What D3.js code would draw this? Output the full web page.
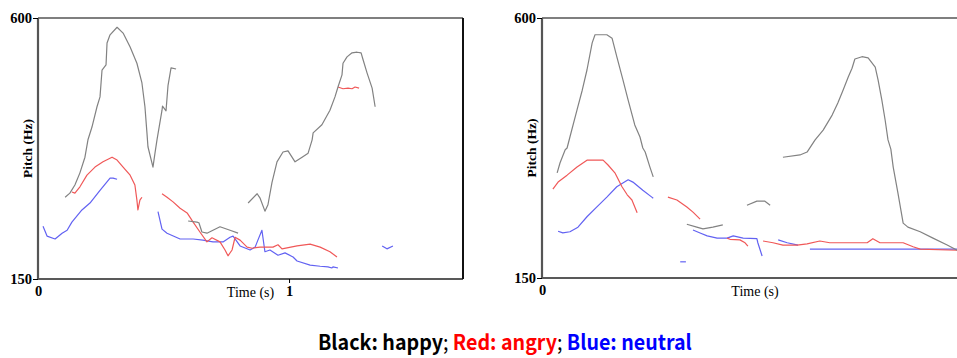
<!DOCTYPE html>
<html>
<head>
<meta charset="utf-8">
<script src="https://cdn.jsdelivr.net/npm/d3@7"></script>
<style>
  body { margin: 0; background: #fff; }
  svg { display: block; }
</style>
</head>
<body>
<div id="chart"></div>
<script>
// pitch tracks, [time (s), pitch (Hz)], one inner array per voiced stretch
const leftHappy = [
  [[0.108,291],[0.127,298],[0.147,312],[0.167,333],[0.187,360],[0.199,390],[0.215,412],[0.235,447],[0.247,464],[0.255,510],[0.271,519],[0.275,557],[0.287,571],[0.315,584],[0.339,574],[0.367,550],[0.394,522],[0.414,488],[0.426,447],[0.434,402],[0.438,378],[0.458,343],[0.466,367],[0.474,390],[0.494,441],[0.496,448],[0.510,440],[0.518,484],[0.530,514],[0.550,512]],
  [[0.598,250],[0.633,248],[0.641,247],[0.653,231],[0.673,229],[0.697,234],[0.725,240],[0.765,234],[0.797,229]],
  [[0.837,281],[0.873,297],[0.884,290],[0.904,267],[0.916,278],[0.932,316],[0.952,352],[0.976,369],[0.996,371],[1.024,352],[1.052,360],[1.076,367],[1.092,390],[1.096,402],[1.131,416],[1.163,441],[1.183,464],[1.195,481],[1.211,502],[1.215,522],[1.231,533],[1.251,540],[1.271,541],[1.287,540],[1.295,528],[1.311,505],[1.331,479],[1.343,447]]
];
const leftAngry = [
  [[0.135,300],[0.147,298],[0.167,309],[0.195,329],[0.227,343],[0.259,352],[0.295,360],[0.315,355],[0.339,343],[0.367,329],[0.386,312],[0.394,286],[0.398,269],[0.406,286],[0.414,291]],
  [[0.494,297],[0.514,291],[0.538,283],[0.566,272],[0.594,264],[0.618,248],[0.645,231],[0.673,214],[0.693,221],[0.725,214],[0.745,200],[0.757,190],[0.773,200],[0.785,222],[0.805,217],[0.833,205],[0.853,203],[0.884,205],[0.936,205],[0.956,209],[0.972,202],[1.032,207],[1.084,210],[1.124,205],[1.163,197],[1.191,188]],
  [[1.195,481],[1.215,478],[1.235,479],[1.251,478],[1.263,481],[1.279,479]]
];
const leftNeutral = [
  [[0.020,241],[0.036,224],[0.068,219],[0.096,229],[0.116,234],[0.135,248],[0.175,269],[0.207,281],[0.247,303],[0.287,324],[0.299,324],[0.315,322]],
  [[0.478,266],[0.494,236],[0.514,229],[0.566,219],[0.618,219],[0.657,217],[0.697,214],[0.737,214],[0.765,222],[0.777,224],[0.805,207],[0.845,200],[0.865,205],[0.876,217],[0.892,234],[0.904,197],[0.924,200],[0.956,191],[0.984,195],[1.016,188],[1.032,181],[1.084,174],[1.124,172],[1.155,171],[1.171,169],[1.175,171],[1.195,169]],
  [[1.371,207],[1.390,202],[1.414,207]]
];

const rightHappy = [
  [[0.032,332],[0.038,349],[0.049,372],[0.053,375],[0.059,394],[0.074,441],[0.085,475],[0.095,510],[0.106,557],[0.112,571],[0.137,571],[0.148,565],[0.158,533],[0.171,493],[0.182,458],[0.196,415],[0.207,394],[0.213,375],[0.218,368],[0.228,342],[0.235,325]],
  [[0.306,243],[0.327,238],[0.340,235],[0.361,238],[0.382,242]],
  [[0.433,276],[0.454,283],[0.471,283],[0.482,276]],
  [[0.509,359],[0.545,363],[0.560,368],[0.577,389],[0.594,406],[0.613,432],[0.625,453],[0.636,475],[0.647,498],[0.655,513],[0.661,529],[0.676,533],[0.689,531],[0.704,515],[0.710,493],[0.718,458],[0.725,423],[0.731,389],[0.737,373],[0.742,342],[0.752,297],[0.763,245],[0.773,238],[0.799,230],[0.826,219],[0.856,207],[0.877,198]]
];
const rightAngry = [
  [[0.023,304],[0.034,316],[0.053,328],[0.074,342],[0.095,354],[0.129,354],[0.139,346],[0.154,332],[0.169,308],[0.180,294],[0.190,285],[0.201,263]],
  [[0.266,290],[0.285,285],[0.306,273],[0.319,264],[0.334,252]],
  [[0.391,219],[0.397,217],[0.418,216],[0.429,211],[0.435,205]],
  [[0.467,214],[0.488,211],[0.509,207],[0.539,207],[0.560,209],[0.587,214],[0.608,211],[0.687,211],[0.699,218],[0.714,211],[0.763,211],[0.784,204],[0.799,200],[0.877,198]]
];
const rightNeutral = [
  [[0.034,231],[0.044,228],[0.059,230],[0.076,238],[0.095,256],[0.116,273],[0.137,290],[0.158,308],[0.182,320],[0.192,316],[0.213,302],[0.232,290],[0.235,288]],
  [[0.292,178],[0.304,178]],
  [[0.319,233],[0.334,228],[0.349,223],[0.370,219],[0.391,219],[0.404,223],[0.425,219],[0.454,218],[0.456,211],[0.465,188]],
  [[0.499,216],[0.518,211],[0.541,207]],
  [[0.566,200],[0.877,200]]
];

const pitchRange = [150, 600];
const pitchTicks = [150, 600];
const timeTicks = [0, 1];
const legendParts = [
  {text: 'Black: happy', color: '#000', weight: 'bold'},
  {text: '; ', color: '#000', weight: 'normal'},
  {text: 'Red: angry', color: '#ff0000', weight: 'bold'},
  {text: '; ', color: '#000', weight: 'normal'},
  {text: 'Blue: neutral', color: '#0000ff', weight: 'bold'}
];

const colors = {happy: '#828282', angry: '#f05858', neutral: '#6262f2'};

const panels = [
  {left: 38, top: 18, bottom: 279, width: 425, duration: 1.693,
   series: {happy: leftHappy, angry: leftAngry, neutral: leftNeutral}},
  {left: 542, top: 18, bottom: 278, width: 426, duration: 0.9,
   series: {happy: rightHappy, angry: rightAngry, neutral: rightNeutral}}
];

const svg = d3.select('#chart').append('svg')
    .attr('width', 957)
    .attr('height', 358);

panels.forEach((p) => {
  const x = d3.scaleLinear().domain([0, p.duration]).range([p.left, p.left + p.width]);
  const y = d3.scaleLinear().domain(pitchRange).range([p.bottom, p.top]);
  const g = svg.append('g');

  const line = d3.line()
      .x((d) => x(d[0]))
      .y((d) => y(d[1]));

  ['neutral', 'angry', 'happy'].forEach((k) => {
    g.selectAll(null)
        .data(p.series[k])
      .enter().append('path')
        .attr('d', line)
        .attr('fill', 'none')
        .attr('stroke', colors[k])
        .attr('stroke-width', 1.2)
        .attr('stroke-linejoin', 'round');
  });

  // frame
  g.append('line')
      .attr('x1', p.left).attr('x2', p.left + p.width)
      .attr('y1', p.top).attr('y2', p.top)
      .attr('stroke', '#000').attr('stroke-width', 1.2);
  g.append('line')
      .attr('x1', p.left).attr('x2', p.left + p.width)
      .attr('y1', p.bottom).attr('y2', p.bottom)
      .attr('stroke', '#222').attr('stroke-width', 1.6);
  g.append('line')
      .attr('x1', p.left + p.width).attr('x2', p.left + p.width)
      .attr('y1', p.top).attr('y2', p.bottom)
      .attr('stroke', '#111').attr('stroke-width', 2);
  g.append('line')
      .attr('x1', p.left).attr('x2', p.left)
      .attr('y1', p.top).attr('y2', p.bottom)
      .attr('stroke', '#555').attr('stroke-width', 2.2);

  const yAxis = g.append('g')
      .attr('transform', `translate(${p.left}, 0)`)
      .call(d3.axisLeft(y).tickValues(pitchTicks).tickSize(5).tickPadding(1));
  const xAxis = g.append('g')
      .attr('transform', `translate(0, ${p.bottom})`)
      .call(d3.axisBottom(x).tickValues(timeTicks.filter((t) => t <= p.duration))
        .tickSize(4).tickPadding(3).tickFormat(d3.format('d')));
  [yAxis, xAxis].forEach((a) => {
    a.select('.domain').remove();
    a.selectAll('line').attr('stroke', '#000');
    a.selectAll('text')
        .style('font-family', '"Liberation Serif", serif')
        .style('font-size', '14.5px')
        .style('font-weight', 'bold')
        .attr('fill', '#000');
  });
  xAxis.selectAll('.tick').filter((d) => d === 0).select('line').remove();

  g.append('text')
      .attr('transform', `translate(${p.left - 6}, ${(p.top + p.bottom) / 2}) rotate(-90)`)
      .attr('text-anchor', 'middle')
      .style('font-family', '"Liberation Serif", serif')
      .style('font-size', '13.5px')
      .style('font-weight', 'bold')
      .text('Pitch (Hz)');

  g.append('text')
      .attr('x', p.left + p.width / 2)
      .attr('y', p.bottom + 18)
      .attr('text-anchor', 'middle')
      .style('font-family', '"Liberation Serif", serif')
      .style('font-size', '14px')
      .text('Time (s)');
});

const legend = svg.append('text')
    .attr('x', 318)
    .attr('y', 350)
    .style('font-family', '"Noto Sans CJK JP", "Noto Sans", sans-serif')
    .style('font-size', '21px');
legend.selectAll('tspan')
    .data(legendParts)
  .enter().append('tspan')
    .attr('fill', (d) => d.color)
    .style('font-weight', (d) => d.weight)
    .text((d) => d.text);
const w = legend.node().getComputedTextLength();
legend.attr('transform', `translate(318, 0) scale(${374 / w}, 1) translate(-318, 0)`);
</script>
</body>
</html>
